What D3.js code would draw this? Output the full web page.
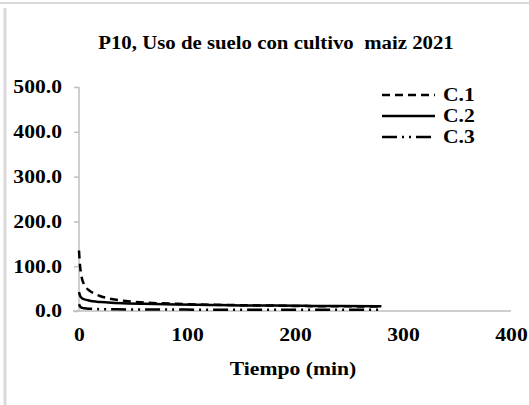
<!DOCTYPE html>
<html>
<head>
<meta charset="utf-8">
<script src="https://cdn.jsdelivr.net/npm/d3@7"></script>
<style>
  body { margin: 0; background: #fff; }
  text { font-family: "Liberation Serif", "Times New Roman", serif; font-weight: bold; fill: #000; white-space: pre; }
</style>
</head>
<body>
<svg id="diagram" width="529" height="405"></svg>
<script>
// Datos
var tiempo = [0, 1, 2, 3, 5, 10, 15, 20, 30, 45, 60, 90, 120, 150, 180, 210, 240, 280];
var c1 = [135, 100, 82, 70, 58, 45, 38, 33, 27, 22, 19, 16, 14, 13, 12, 11, 10.5, 10];
var c2 = [42, 34, 30, 28, 26, 23, 21, 20, 18.5, 17, 16, 14.5, 13.5, 12.5, 12, 11.5, 11, 10.5];
var c3 = [15, 10, 8, 7, 6, 5, 4.5, 4, 3.8, 3.5, 3.3, 3.2, 3, 3, 3, 3, 3, 3];
var yTicks = [0, 100, 200, 300, 400, 500];
var xTicks = [0, 100, 200, 300, 400];
var series = [
    {name: "C.1", values: c1, dash: "8,5"},
    {name: "C.2", values: c2, dash: null},
    {name: "C.3", values: c3, dash: "15,5,2,5,2,5"}
];

var fuente = "18.5px";

// el grafico original esta algo estirado en horizontal
function ensanchar(sel) {
    sel.attr("transform", function () {
        var x = +this.getAttribute("x") || 0;
        return "translate(" + x + ",0) scale(1.17,1) translate(" + (-x) + ",0)";
    });
}

var svg = d3.select("#diagram");

// marco gris
svg.append("line").attr("x1", 0).attr("x2", 529).attr("y1", 3).attr("y2", 3)
    .attr("stroke", "#d9d9d9").attr("stroke-width", 2);
svg.append("line").attr("x1", 5).attr("x2", 5).attr("y1", 8).attr("y2", 405)
    .attr("stroke", "#d9d9d9").attr("stroke-width", 3);

var xScale = d3.scaleLinear().domain([0, 400]).range([79, 511]);
var yScale = d3.scaleLinear().domain([0, 500]).range([311, 87]);

// titulo
svg.append("text")
    .attr("x", 276).attr("y", 49)
    .attr("text-anchor", "middle")
    .style("font-size", "17.8px")
    .text("P10, Uso de suelo con cultivo  maiz 2021")
    .call(ensanchar);

// eje Y
var yAxis = svg.append("g")
    .attr("transform", "translate(" + xScale(0) + ",0)")
    .call(d3.axisLeft(yScale).tickValues(yTicks).tickSize(5).tickPadding(12)
        .tickFormat(function (d) { return d3.format(".1f")(d); }));
yAxis.select(".domain").attr("stroke", "#bfbfbf").attr("stroke-width", 1.5)
    .attr("d", "M0," + yScale(500) + "V" + yScale(0));
yAxis.selectAll(".tick line").attr("stroke", "#bfbfbf").attr("stroke-width", 1.5);
yAxis.selectAll(".tick text").style("font-size", fuente).attr("fill", "#000").call(ensanchar);

// eje X
var xAxis = svg.append("g")
    .attr("transform", "translate(0," + yScale(0) + ")")
    .call(d3.axisBottom(xScale).tickValues(xTicks).tickSize(0).tickPadding(17));
xAxis.select(".domain").attr("stroke", "#bfbfbf").attr("stroke-width", 1.5)
    .attr("d", "M" + (xScale(0) - 6) + ",0H" + xScale(400));
xAxis.selectAll(".tick text").style("font-size", fuente).attr("fill", "#000").call(ensanchar);

svg.append("text")
    .attr("x", 293).attr("y", 375)
    .attr("text-anchor", "middle")
    .style("font-size", fuente)
    .text("Tiempo (min)")
    .call(ensanchar);

// lineas
var line = d3.line()
    .x(function (d, i) { return xScale(tiempo[i]); })
    .y(function (d) { return yScale(d); })
    .curve(d3.curveMonotoneX);

svg.selectAll(".serie")
    .data(series)
    .enter().append("path")
    .attr("class", "serie")
    .attr("d", function (d) { return line(d.values); })
    .attr("fill", "none")
    .attr("stroke", "#000")
    .attr("stroke-width", 2.5)
    .attr("stroke-dasharray", function (d) { return d.dash; });

// leyenda
var legend = svg.selectAll(".legendItem")
    .data(series)
    .enter().append("g")
    .attr("class", "legendItem")
    .attr("transform", function (d, i) { return "translate(382," + (95 + i * 21) + ")"; });

legend.append("line")
    .attr("x1", 0).attr("x2", 53).attr("y1", 0).attr("y2", 0)
    .attr("stroke", "#000").attr("stroke-width", 2.5)
    .attr("stroke-dasharray", function (d) { return d.dash; });

legend.append("text")
    .attr("x", 61).attr("y", 6)
    .style("font-size", fuente)
    .text(function (d) { return d.name; })
    .call(ensanchar);
</script>
</body>
</html>
